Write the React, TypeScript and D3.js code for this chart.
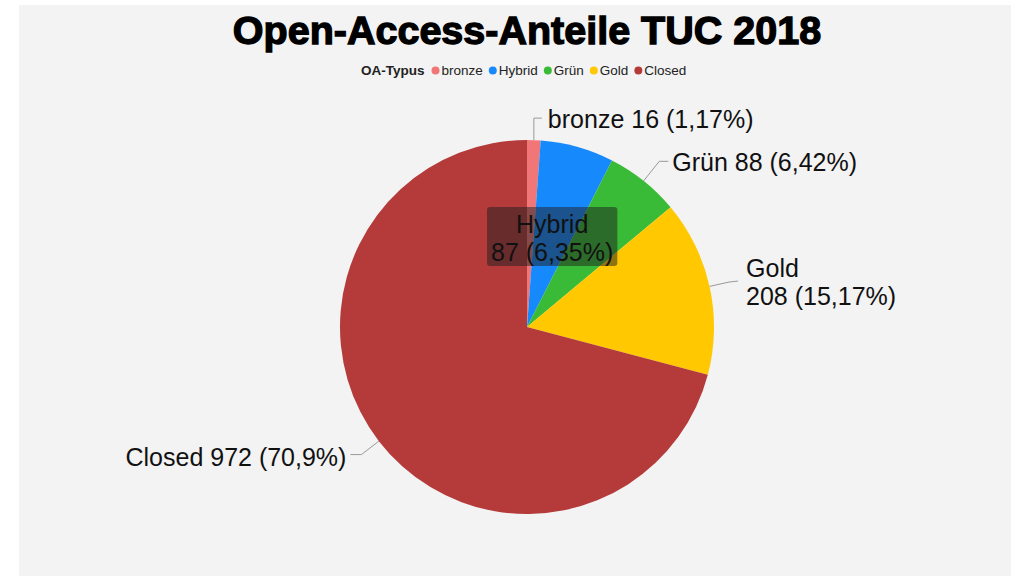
import React, { useEffect, useRef } from "react";
import * as d3 from "d3";

const categories = ["bronze", "Hybrid", "Grün", "Gold", "Closed"];
const values = [16, 87, 88, 208, 972];
const percentLabels = ["1,17%", "6,35%", "6,42%", "15,17%", "70,9%"];
const colors = ["#f07677", "#1689fc", "#3abb37", "#ffc800", "#b53a3a"];
const title = "Open-Access-Anteile TUC 2018";
const legendTitle = "OA-Typus";

const W = 1011;
const H = 576;
const FONT = "'Liberation Sans', Arial, Helvetica, sans-serif";

export default function App() {
  const ref = useRef<SVGSVGElement | null>(null);

  useEffect(() => {
    const svg = d3.select(ref.current);
    svg.selectAll("*").remove();

    svg.append("rect").attr("width", W).attr("height", H).attr("fill", "#ffffff");
    svg.append("rect").attr("x", 19).attr("y", 5).attr("width", W - 19).attr("height", H - 5).attr("fill", "#f3f3f3");

    // title
    svg.append("text")
      .attr("x", 527).attr("y", 44)
      .attr("text-anchor", "middle")
      .attr("font-family", FONT)
      .attr("font-weight", "bold")
      .attr("font-size", 39.5)
      .attr("fill", "#000")
      .attr("stroke", "#000").attr("stroke-width", 1.3)
      .text(title);

    // legend
    const lg = svg.append("g").attr("font-family", FONT).attr("font-size", 13.5);
    let lx = 361;
    const ly = 75;
    const t0 = lg.append("text").attr("x", lx).attr("y", ly).attr("font-weight", "bold").attr("fill", "#222").text(legendTitle);
    lx += (t0.node() as SVGTextElement).getComputedTextLength() + 7;
    categories.forEach((c, i) => {
      lg.append("circle").attr("cx", lx + 4).attr("cy", ly - 4.5).attr("r", 4).attr("fill", colors[i]);
      const t = lg.append("text").attr("x", lx + 10).attr("y", ly).attr("fill", "#222").text(c);
      lx += 10 + (t.node() as SVGTextElement).getComputedTextLength() + 6;
    });

    // pie
    const cx = 527, cy = 327, r = 187;
    const pie = d3.pie<number>().sort(null).value((d) => d);
    const arcs = pie(values);
    const arc = d3.arc<d3.PieArcDatum<number>>().innerRadius(0).outerRadius(r);
    const g = svg.append("g").attr("transform", `translate(${cx},${cy})`);
    g.selectAll("path").data(arcs).enter().append("path")
      .attr("d", arc as any)
      .attr("fill", (_d, i) => colors[i]);

    const pt = (a: number, rr: number) => [Math.sin(a) * rr, -Math.cos(a) * rr];
    const lab = svg.append("g").attr("font-family", FONT).attr("font-size", 25).attr("fill", "#111");
    const line = (pts: number[][]) =>
      lab.append("polyline")
        .attr("points", pts.map((p) => `${p[0] + cx},${p[1] + cy}`).join(" "))
        .attr("fill", "none").attr("stroke", "#999").attr("stroke-width", 1);

    arcs.forEach((a, i) => {
      const mid = (a.startAngle + a.endAngle) / 2;
      const name = categories[i];
      const v = values[i];
      const pct = percentLabels[i];
      if (name === "Hybrid") {
        const c = arc.centroid(a);
        const bx = c[0] + cx, by = c[1] + cy;
        const gg = svg.append("g").attr("font-family", FONT).attr("font-size", 25);
        const rect = gg.append("rect").attr("fill", "rgba(30,30,30,0.5)").attr("rx", 3);
        const t1 = gg.append("text").attr("x", bx).attr("y", by - 4).attr("text-anchor", "middle").attr("fill", "#111").text(name);
        const t2 = gg.append("text").attr("x", bx).attr("y", by + 24).attr("text-anchor", "middle").attr("fill", "#111").text(`${v} (${pct})`);
        const w = Math.max((t1.node() as SVGTextElement).getComputedTextLength(), (t2.node() as SVGTextElement).getComputedTextLength());
        rect.attr("x", bx - w / 2 - 4).attr("y", by - 30).attr("width", w + 8).attr("height", 59);
        return;
      }
      const p0 = pt(mid, r);
      if (name === "bronze") {
        const p1 = [p0[0], p0[1] - 22];
        const p2 = [p1[0] + 8, p1[1]];
        line([p0, p1, p2]);
        lab.append("text").attr("x", p2[0] + cx + 6).attr("y", p2[1] + cy + 10).text(`${name} ${v} (${pct})`);
      } else if (name === "Grün") {
        const p1 = pt(mid, r + 25);
        const p2 = [p1[0] + 9, p1[1]];
        line([p0, p1, p2]);
        lab.append("text").attr("x", p2[0] + cx + 4).attr("y", p2[1] + cy + 10).text(`${name} ${v} (${pct})`);
      } else if (name === "Gold") {
        const p1 = pt(mid, r + 20);
        const p2 = [p1[0] + 9, p1[1] - 1];
        line([p0, p1, p2]);
        const x = p2[0] + cx + 8;
        lab.append("text").attr("x", x).attr("y", p2[1] + cy - 4).text(name);
        lab.append("text").attr("x", x).attr("y", p2[1] + cy + 24).text(`${v} (${pct})`);
      } else {
        const p1 = pt(mid, r + 22);
        const p2 = [p1[0] - 11, p1[1]];
        line([p0, p1, p2]);
        lab.append("text").attr("x", p2[0] + cx - 4).attr("y", p2[1] + cy + 11).attr("text-anchor", "end").text(`${name} ${v} (${pct})`);
      }
    });
  }, []);

  return (
    <svg
      ref={ref}
      width={W}
      height={H}
      style={{ position: "fixed", left: 0, top: 0, display: "block" }}
    />
  );
}
